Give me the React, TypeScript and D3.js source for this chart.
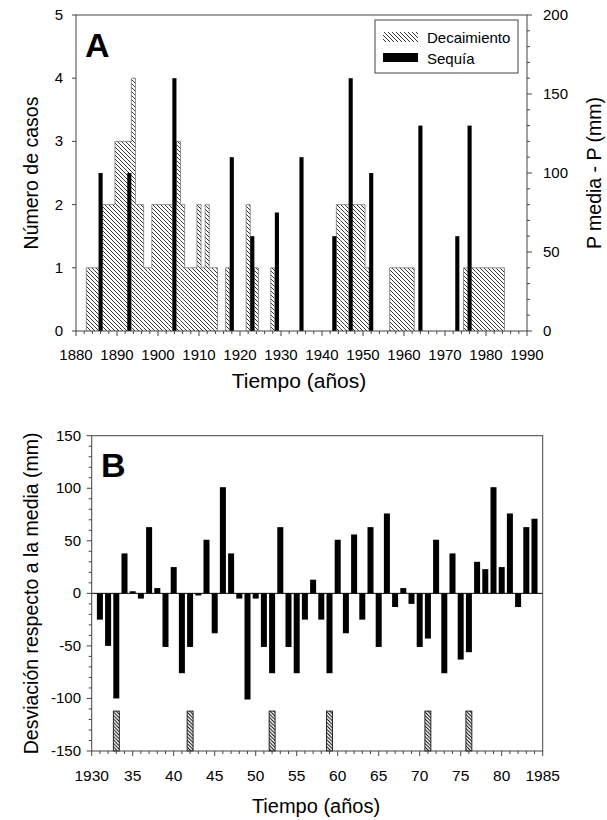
import React from 'react';
import * as d3 from 'd3';

// Panel A data
const decayYears = [1883,1884,1885,1886,1887,1888,1889,1890,1891,1892,1893,1894,1895,1896,1897,1898,1899,1900,1901,1902,1903,1904,1905,1906,1907,1908,1909,1910,1911,1912,1913,1914,1917,1922,1924,1928,1944,1945,1946,1947,1948,1949,1950,1951,1957,1958,1959,1960,1961,1962,1975,1976,1977,1978,1979,1980,1981,1982,1983,1984];
const decayCounts = [1,1,1,1,2,2,2,3,3,3,3,4,2,2,1,1,2,2,2,2,2,2,3,2,1,1,1,2,1,2,1,1,1,2,1,1,2,2,2,2,2,2,2,1,1,1,1,1,1,1,1,1,1,1,1,1,1,1,1,1];
const droughtYears = [1886,1893,1904,1918,1923,1929,1935,1943,1947,1952,1964,1973,1976];
const droughtValues = [100,100,160,110,60,75,110,60,160,100,130,60,130];
const yearTicksA = [1880,1890,1900,1910,1920,1930,1940,1950,1960,1970,1980,1990];
const countTicks = [0,1,2,3,4,5];
const precipTicks = [0,50,100,150,200];

// Panel B data
const devYears = d3.range(1931, 1985);
const devValues = [-25,-50,-100,38,2,-5,63,5,-51,25,-76,-51,-2,51,-38,101,38,-5,-101,-5,-51,-76,63,-51,-76,-25,13,-25,-76,51,-38,56,-25,63,-51,76,-13,5,-10,-51,-43,51,-76,38,-63,-56,30,23,101,25,76,-13,63,71];
const markerYears = [1933,1942,1952,1959,1971,1976];
const markerTop = -112;
const yearTicksB = [1930,1935,1940,1945,1950,1955,1960,1965,1970,1975,1980,1985];
const yearTickLabelsB = ['1930','35','40','45','50','55','60','65','70','75','80','1985'];
const devTicks = [-150,-100,-50,0,50,100,150];

const FONT = 'Liberation Sans, Arial, sans-serif';
const AX = '#444';

export default function App() {
  // Panel A scales
  const xA = d3.scaleLinear().domain([1880, 1990]).range([76, 527]);
  const yA = d3.scaleLinear().domain([0, 5]).range([331, 15]);
  const yP = d3.scaleLinear().domain([0, 200]).range([331, 15]);

  // Panel B scales
  const xB = d3.scaleLinear().domain([1930, 1985]).range([91.7, 542.7]);
  const yB = d3.scaleLinear().domain([-150, 150]).range([751, 435.7]);

  const countMap = new Map<number, number>();
  decayYears.forEach((y, i) => countMap.set(y, decayCounts[i]));

  // outline of histogram
  let outline = '';
  for (let y = 1880; y <= 1990; y++) {
    const c = countMap.get(y) || 0;
    const cn = countMap.get(y + 1) || 0;
    if (c > 0) {
      outline += `M${xA(y - 0.5)},${yA(c)}H${xA(y + 0.5)}`;
    }
    if (c !== cn) {
      outline += `M${xA(y + 0.5)},${yA(c)}V${yA(cn)}`;
    }
  }

  const minorA = d3.range(1880, 1991, 2);
  const minorP = d3.range(0, 201, 10);
  const minorBX = d3.range(1930, 1986, 1);
  const minorBY = d3.range(-150, 151, 10);
  const bw = 6 / 8.2;

  return (
    <svg width={607} height={820} style={{ display: 'block', position: 'absolute', left: 0, top: 0 }} fontFamily={FONT}>
      <defs>
        <pattern id="hatch" patternUnits="userSpaceOnUse" width={4} height={4}>
          <rect width={4} height={4} fill="#fff" />
          <path d="M-1,-1L5,5M-1,3L1,5M3,-1L5,1" stroke="#000" strokeWidth={0.8} />
        </pattern>
        <pattern id="hatchB" patternUnits="userSpaceOnUse" width={3.5} height={3.5}>
          <rect width={3.5} height={3.5} fill="#fff" />
          <path d="M-1,-1L4.5,4.5M-1,2.5L1,4.5M2.5,-1L4.5,1" stroke="#000" strokeWidth={1} />
        </pattern>
      </defs>

      {/* ===== Panel A ===== */}
      <g>
        {decayYears.map((y, i) => (
          <rect key={'d' + y} x={xA(y - 0.5)} y={yA(decayCounts[i])} width={xA(y + 0.5) - xA(y - 0.5)} height={yA(0) - yA(decayCounts[i])} fill="url(#hatch)" />
        ))}
        <path d={outline} fill="none" stroke="#777" strokeWidth={0.8} />
        {droughtYears.map((y, i) => (
          <rect key={'s' + y} x={xA(y - 0.5)} y={yP(droughtValues[i])} width={xA(y + 0.5) - xA(y - 0.5)} height={yP(0) - yP(droughtValues[i])} fill="#000" />
        ))}
        {/* frame */}
        <rect x={xA(1880)} y={yA(5)} width={xA(1990) - xA(1880)} height={yA(0) - yA(5)} fill="none" stroke={AX} strokeWidth={1} />
        {/* x ticks */}
        {minorA.map(t => (
          <line key={'mxa' + t} x1={xA(t)} x2={xA(t)} y1={yA(0)} y2={yA(0) + (t % 10 === 0 ? 5 : 3)} stroke={AX} />
        ))}
        {yearTicksA.map(t => (
          <text key={'lxa' + t} x={xA(t)} y={359.5} textAnchor="middle" fontSize={15}>{t}</text>
        ))}
        {/* left ticks */}
        {countTicks.map(t => (
          <g key={'ya' + t}>
            <line x1={xA(1880) - 4} x2={xA(1880)} y1={yA(t)} y2={yA(t)} stroke={AX} />
            <text x={63} y={yA(t) + 5} textAnchor="end" fontSize={15}>{t}</text>
          </g>
        ))}
        {/* right ticks */}
        {minorP.map(t => (
          <line key={'mp' + t} x1={xA(1990)} x2={xA(1990) + (t % 50 === 0 ? 5 : 3)} y1={yP(t)} y2={yP(t)} stroke={AX} />
        ))}
        {precipTicks.map(t => (
          <text key={'lp' + t} x={543} y={yP(t) + 5} textAnchor="start" fontSize={15}>{t}</text>
        ))}
        <text x={85} y={57} fontSize={34} fontWeight="bold">A</text>
        <text transform={`translate(38,${(yA(0) + yA(5)) / 2}) rotate(-90)`} textAnchor="middle" fontSize={19.5}>Número de casos</text>
        <text transform={`translate(601,${(yA(0) + yA(5)) / 2}) rotate(-90)`} textAnchor="middle" fontSize={19.5}>P media - P (mm)</text>
        <text x={299} y={388} textAnchor="middle" fontSize={21}>Tiempo (años)</text>
        {/* legend */}
        <rect x={375} y={20} width={143} height={53} fill="#fff" stroke={AX} />
        <rect x={383} y={32} width={35} height={10} fill="url(#hatch)" />
        <text x={427} y={43} fontSize={15}>Decaimiento</text>
        <rect x={383} y={53} width={35} height={9} fill="#000" />
        <text x={427} y={64} fontSize={15}>Sequía</text>
      </g>

      {/* ===== Panel B ===== */}
      <g>
        {devYears.map((y, i) => (
          <rect key={'b' + y} x={xB(y - bw / 2)} y={yB(Math.max(0, devValues[i]))} width={xB(y + bw / 2) - xB(y - bw / 2)} height={Math.abs(yB(devValues[i]) - yB(0))} fill="#000" />
        ))}
        <line x1={xB(1930)} x2={xB(1985)} y1={yB(0)} y2={yB(0)} stroke="#000" strokeWidth={1} />
        {markerYears.map(y => (
          <rect key={'m' + y} x={xB(y - bw / 2)} y={yB(markerTop)} width={xB(y + bw / 2) - xB(y - bw / 2)} height={yB(-150) - yB(markerTop)} fill="url(#hatchB)" stroke="#000" strokeWidth={0.8} />
        ))}
        <rect x={xB(1930)} y={yB(150)} width={xB(1985) - xB(1930)} height={yB(-150) - yB(150)} fill="none" stroke={AX} strokeWidth={1} />
        {minorBX.map(t => (
          <line key={'mbx' + t} x1={xB(t)} x2={xB(t)} y1={yB(-150)} y2={yB(-150) + (t % 5 === 0 ? 5 : 3)} stroke={AX} />
        ))}
        {yearTicksB.map((t, i) => (
          <text key={'lbx' + t} x={xB(t)} y={781} textAnchor="middle" fontSize={15.5}>{yearTickLabelsB[i]}</text>
        ))}
        {minorBY.map(t => (
          <line key={'mby' + t} x1={xB(1930) - (t % 50 === 0 ? 5 : 3)} x2={xB(1930)} y1={yB(t)} y2={yB(t)} stroke={AX} />
        ))}
        {devTicks.map(t => (
          <text key={'lby' + t} x={81} y={yB(t) + 5} textAnchor="end" fontSize={15}>{t}</text>
        ))}
        <text x={101} y={477} fontSize={34} fontWeight="bold">B</text>
        <text transform={`translate(38,${(yB(150) + yB(-150)) / 2}) rotate(-90)`} textAnchor="middle" fontSize={19.5}>Desviación respecto a la media (mm)</text>
        <text x={316} y={813} textAnchor="middle" fontSize={20}>Tiempo (años)</text>
      </g>
    </svg>
  );
}
